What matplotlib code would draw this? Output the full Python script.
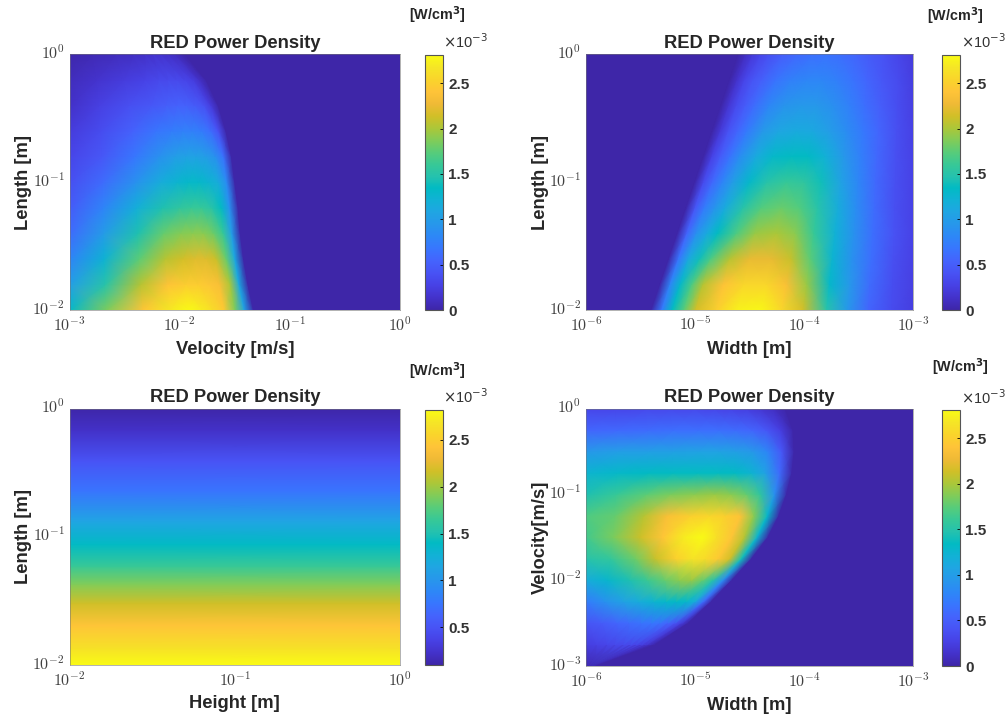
import numpy as np
import matplotlib
matplotlib.use("Agg")
import matplotlib.pyplot as plt
from matplotlib.colors import LinearSegmentedColormap
from matplotlib.transforms import ScaledTranslation

plt.rcParams["font.family"] = ["Liberation Sans", "DejaVu Sans"]
plt.rcParams["mathtext.fontset"] = "cm"

W, H = 1005, 719

# parula, sampled
parula_colors = [
    (0.2422, 0.1504, 0.6603), (0.2647, 0.1978, 0.7952), (0.2783, 0.2559, 0.8991),
    (0.2810, 0.3228, 0.9579), (0.2699, 0.3892, 0.9906), (0.2206, 0.4603, 0.9973),
    (0.1786, 0.5289, 0.9682), (0.1540, 0.5902, 0.9218), (0.1248, 0.6459, 0.8883),
    (0.0689, 0.6948, 0.8394), (0.0067, 0.7312, 0.7660), (0.1408, 0.7584, 0.6842),
    (0.2161, 0.7843, 0.5923), (0.3406, 0.8008, 0.4789), (0.5044, 0.7993, 0.3480),
    (0.6720, 0.7793, 0.2227), (0.8203, 0.7498, 0.1535), (0.9393, 0.7288, 0.2100),
    (0.9970, 0.7659, 0.2199), (0.9786, 0.8317, 0.1700), (0.9619, 0.8990, 0.1500),
    (0.9769, 0.9839, 0.0805),
]
parula = LinearSegmentedColormap.from_list("parula", parula_colors, N=256)

# power density in units of 1e-3 W/cm^3
# axes are log10. Each row is read along a line that runs between the plot edge
# and the place where the power falls to zero (edge_*), at the fractions in frac_*

# top left: velocity vs length
length_a = [-2.0, -1.8, -1.6, -1.4, -1.2, -1.0, -0.8, -0.6, -0.4, -0.2, 0.0]
edge_a = [-1.33, -1.38, -1.42, -1.45, -1.47, -1.50, -1.53, -1.58, -1.65, -1.76, -1.95]
frac_a = [0, 0.2, 0.4, 0.55, 0.65, 0.72, 0.78, 0.84, 0.9, 0.95, 1.0]
power_a = [
    [1.30, 1.85, 2.42, 2.70, 2.81, 2.72, 2.60, 2.45, 1.85, 1.05, 0.0],
    [1.00, 1.50, 2.05, 2.40, 2.48, 2.47, 2.43, 2.35, 2.00, 1.10, 0.0],
    [0.78, 1.22, 1.75, 2.05, 2.15, 2.20, 2.20, 2.12, 1.80, 1.10, 0.0],
    [0.60, 0.98, 1.45, 1.78, 1.88, 1.90, 1.90, 1.82, 1.60, 1.00, 0.0],
    [0.48, 0.78, 1.18, 1.45, 1.55, 1.60, 1.60, 1.52, 1.35, 0.90, 0.0],
    [0.38, 0.60, 0.90, 1.15, 1.25, 1.30, 1.30, 1.25, 1.15, 0.85, 0.0],
    [0.30, 0.45, 0.68, 0.88, 1.00, 1.05, 1.05, 1.00, 0.90, 0.65, 0.0],
    [0.22, 0.36, 0.52, 0.66, 0.72, 0.75, 0.75, 0.72, 0.62, 0.40, 0.0],
    [0.13, 0.26, 0.38, 0.45, 0.50, 0.52, 0.52, 0.48, 0.40, 0.22, 0.0],
    [0.08, 0.15, 0.22, 0.28, 0.32, 0.33, 0.33, 0.30, 0.25, 0.13, 0.0],
    [0.02, 0.05, 0.08, 0.10, 0.13, 0.15, 0.15, 0.13, 0.10, 0.05, 0.0],
]

# top right: width vs length, here the zero line is on the left of each row
length_b = [-2.0, -1.8, -1.6, -1.4, -1.2, -1.0, -0.8, -0.6, -0.4, -0.2, 0.0]
edge_b = [-5.4, -5.32, -5.24, -5.16, -5.08, -5.0, -4.92, -4.84, -4.76, -4.68, -4.6]
frac_b = [0, 0.04, 0.08, 0.125, 0.17, 0.25, 0.33, 0.42, 0.5, 0.58, 0.67, 0.75, 0.83, 0.92, 1.0]
power_b = [
    [0.0, 0.70, 1.35, 1.75, 2.15, 2.50, 2.75, 2.78, 2.55, 2.15, 1.50, 0.95, 0.55, 0.35, 0.25],
    [0.0, 0.80, 1.30, 1.70, 2.05, 2.40, 2.55, 2.55, 2.35, 1.95, 1.30, 0.95, 0.60, 0.37, 0.26],
    [0.0, 0.68, 1.10, 1.40, 1.68, 2.05, 2.25, 2.25, 2.10, 1.75, 1.25, 0.90, 0.62, 0.38, 0.27],
    [0.0, 0.55, 0.88, 1.12, 1.35, 1.70, 1.95, 2.00, 1.90, 1.60, 1.20, 0.90, 0.62, 0.40, 0.28],
    [0.0, 0.45, 0.72, 0.92, 1.12, 1.50, 1.72, 1.80, 1.72, 1.50, 1.15, 0.85, 0.60, 0.38, 0.28],
    [0.0, 0.35, 0.58, 0.78, 0.98, 1.30, 1.50, 1.60, 1.55, 1.40, 1.05, 0.80, 0.58, 0.38, 0.28],
    [0.0, 0.28, 0.48, 0.65, 0.85, 1.12, 1.30, 1.35, 1.33, 1.20, 0.95, 0.75, 0.57, 0.38, 0.28],
    [0.0, 0.20, 0.40, 0.55, 0.70, 0.95, 1.08, 1.12, 1.10, 1.00, 0.85, 0.70, 0.55, 0.38, 0.27],
    [0.0, 0.18, 0.35, 0.48, 0.60, 0.80, 0.92, 0.96, 0.95, 0.88, 0.75, 0.62, 0.50, 0.37, 0.26],
    [0.0, 0.15, 0.30, 0.42, 0.50, 0.65, 0.75, 0.80, 0.80, 0.75, 0.65, 0.55, 0.45, 0.35, 0.25],
    [0.0, 0.10, 0.20, 0.30, 0.38, 0.50, 0.58, 0.63, 0.65, 0.62, 0.55, 0.47, 0.40, 0.30, 0.23],
]

# bottom left: height vs length, no change along height
height_c = [-2.0, 0.0]
length_c = [-2.0, -1.87, -1.69, -1.52, -1.37, -1.23, -1.06, -0.88, -0.64, -0.41, -0.17, 0.0]
power_c_by_length = [2.82, 2.65, 2.43, 2.17, 1.91, 1.65, 1.39, 1.13, 0.74, 0.49, 0.22, 0.1]

# bottom right: width vs velocity
velocity_d = [-3.0, -2.75, -2.5, -2.25, -2.0, -1.75, -1.5, -1.25, -1.0, -0.75, -0.5, -0.25, 0.0]
edge_d = [-5.9, -5.36, -5.06, -4.85, -4.66, -4.48, -4.33, -4.23, -4.16, -4.11, -4.09, -4.1, -4.17]
frac_d = [0, 0.15, 0.3, 0.42, 0.54, 0.64, 0.72, 0.8, 0.87, 0.94, 1.0]
power_d = [
    [0.04, 0.03, 0.03, 0.02, 0.02, 0.01, 0.01, 0.01, 0.00, 0.00, 0.0],
    [0.25, 0.28, 0.30, 0.32, 0.33, 0.32, 0.30, 0.25, 0.18, 0.08, 0.0],
    [0.42, 0.48, 0.55, 0.60, 0.65, 0.68, 0.65, 0.55, 0.42, 0.20, 0.0],
    [0.72, 0.90, 1.05, 1.15, 1.25, 1.30, 1.32, 1.30, 1.15, 0.60, 0.0],
    [1.15, 1.28, 1.45, 1.62, 1.78, 1.90, 1.95, 1.78, 1.50, 0.85, 0.0],
    [1.50, 1.58, 1.82, 2.10, 2.50, 2.65, 2.60, 2.45, 2.15, 1.40, 0.0],
    [1.65, 1.85, 2.12, 2.42, 2.72, 2.81, 2.62, 2.42, 2.05, 1.25, 0.0],
    [1.70, 1.78, 2.05, 2.35, 2.50, 2.55, 2.50, 2.40, 1.90, 1.30, 0.0],
    [1.45, 1.60, 1.75, 1.85, 1.90, 1.95, 1.90, 1.78, 1.55, 0.90, 0.0],
    [1.25, 1.30, 1.33, 1.35, 1.35, 1.35, 1.33, 1.25, 1.05, 0.60, 0.0],
    [0.95, 1.00, 1.02, 1.03, 1.05, 1.05, 1.02, 0.95, 0.80, 0.45, 0.0],
    [0.55, 0.58, 0.60, 0.62, 0.62, 0.62, 0.60, 0.55, 0.45, 0.25, 0.0],
    [0.30, 0.30, 0.32, 0.32, 0.32, 0.30, 0.28, 0.25, 0.18, 0.10, 0.0],
]

cbar_ticks = [0, 0.5, 1, 1.5, 2, 2.5]
cbar_labels = ["0", "0.5", "1", "1.5", "2", "2.5"]
cbar_ticks_c = [0.5, 1, 1.5, 2, 2.5]
cbar_labels_c = ["0.5", "1", "1.5", "2", "2.5"]


def px_axes(x0, y0, x1, y1):
    return fig.add_axes([x0 / W, 1 - y1 / H, (x1 - x0) / W, (y1 - y0) / H])


def label(x, y, s, size=13.2, rotation=0, weight="bold", color="#262626"):
    fig.text(x / W, 1 - y / H, s, fontsize=size, rotation=rotation, weight=weight,
             color=color, ha="center", va="center", math_fontfamily="dejavusans")


def panel(box, cbox, X, Y, zz, xdec, ydec, xname, yname, vmin, vmax, ticks, ticklabels, unit_xy, sci_xy):
    ax = px_axes(*box)
    m = ax.pcolormesh(10.0 ** X, 10.0 ** Y, np.array(zz), cmap=parula, vmin=vmin, vmax=vmax, shading="gouraud")
    ax.set_xscale("log")
    ax.set_yscale("log")
    ax.set_xlim(10.0 ** xdec[0], 10.0 ** xdec[-1])
    ax.set_ylim(10.0 ** ydec[0], 10.0 ** ydec[-1])
    ax.set_xticks([10.0 ** d for d in xdec], [f"$10^{{{d}}}$" for d in xdec])
    ax.set_yticks([10.0 ** d for d in ydec], [f"$10^{{{d}}}$" for d in ydec])
    ax.minorticks_off()
    ax.tick_params(length=0, labelsize=11.5, labelcolor="#404040", pad=3.5)
    up = ScaledTranslation(0, 2.5 / 72, fig.dpi_scale_trans)
    for t in ax.get_yticklabels():
        t.set_transform(t.get_transform() + up)
    for s in ax.spines.values():
        s.set_linewidth(0.4)
        s.set_color("#777777")

    cax = px_axes(*cbox)
    cb = fig.colorbar(m, cax=cax)
    cb.set_ticks(ticks, labels=ticklabels)
    cb.minorticks_off()
    cax.tick_params(length=2, width=0.6, direction="in", labelsize=11, labelcolor="#333333", pad=3.8)
    for t in cax.get_yticklabels():
        t.set_fontweight("bold")
    cb.outline.set_linewidth(0.8)
    cb.outline.set_edgecolor("#555555")

    cx = (box[0] + box[2]) / 2
    label(cx, box[1] - 11, "RED Power Density")
    label(cx, box[3] + 39, xname)
    label(box[0] - 46, (box[1] + box[3]) / 2, yname, rotation=90)
    label(unit_xy[0], unit_xy[1], "[W/cm$^{\\mathbf{3}}$]", size=10.4)
    label(sci_xy[0], sci_xy[1], "$\\times$10$^{-3}$", size=10.5, weight="normal", color="#333333")


def rows_to_edge(edge, frac, start):
    # x positions on each row, from start to that row's zero line
    return np.array([[start + f * (e - start) for f in frac] for e in edge])


fig = plt.figure(figsize=(W / 100, H / 100), dpi=100)

# top left, zero beyond the last column
X = np.column_stack([rows_to_edge(edge_a, frac_a, -3.0), np.zeros(len(length_a))])
Y = np.tile(np.array(length_a)[:, None], (1, X.shape[1]))
Z = np.column_stack([np.array(power_a), np.zeros(len(length_a))])
panel((69.5, 54, 400, 310), (425, 55, 443, 310), X, Y, Z,
      [-3, -2, -1, 0], [-2, -1, 0], "Velocity [m/s]", "Length [m]",
      0, 2.81, cbar_ticks, cbar_labels, (437, 15), (465, 42))

# top right, zero before the first column
X = np.array([[-6.0] + [e + f * (-3.0 - e) for f in frac_b] for e in edge_b])
Y = np.tile(np.array(length_b)[:, None], (1, X.shape[1]))
Z = np.column_stack([np.zeros(len(length_b)), np.array(power_b)])
panel((586, 54, 913, 310), (942, 55, 960, 310), X, Y, Z,
      [-6, -5, -4, -3], [-2, -1, 0], "Width [m]", "Length [m]",
      0, 2.81, cbar_ticks, cbar_labels, (955, 16), (983, 42))

# bottom left
power_c = np.column_stack([power_c_by_length, power_c_by_length])
X, Y = np.meshgrid(height_c, length_c)
panel((69.5, 408.5, 400, 665), (425, 410, 443, 665), X, Y, power_c,
      [-2, -1, 0], [-2, -1, 0], "Height [m]", "Length [m]",
      0.096, 2.82, cbar_ticks_c, cbar_labels_c, (437, 371), (465, 397))

# bottom right, zero beyond the last column
X = np.column_stack([rows_to_edge(edge_d, frac_d, -6.0), np.full(len(velocity_d), -3.0)])
Y = np.tile(np.array(velocity_d)[:, None], (1, X.shape[1]))
Z = np.column_stack([np.array(power_d), np.zeros(len(velocity_d))])
panel((586, 408.5, 913, 666), (942, 410, 960, 666), X, Y, Z,
      [-6, -5, -4, -3], [-3, -2, -1, 0], "Width [m]", "Velocity[m/s]",
      0, 2.81, cbar_ticks, cbar_labels, (960, 367), (983, 398))

fig.savefig("out.png", dpi=100)
